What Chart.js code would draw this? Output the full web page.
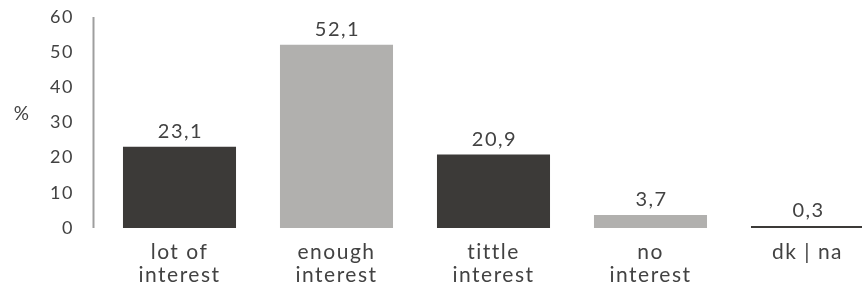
<!DOCTYPE html>
<html>
<head>
<meta charset="utf-8">
<script src="https://cdn.jsdelivr.net/npm/chart.js@4/dist/chart.umd.min.js"></script>
<style>
  html, body { margin: 0; padding: 0; background: #fff; overflow: hidden; }
  #wrap { position: relative; width: 892px; height: 291px; }
</style>
</head>
<body>
<div id="wrap"><canvas id="chart"></canvas></div>
<script>
// chart data
const categories = [['lot of', 'interest'], ['enough', 'interest'], ['tittle', 'interest'], ['no', 'interest'], 'dk | na'];
const values = [23.1, 52.1, 20.9, 3.7, 0.3];
const barColors = ['#3c3a38', '#b1b0ae', '#3c3a38', '#b1b0ae', '#3c3a38'];
const yTicks = [0, 10, 20, 30, 40, 50, 60];

const FONT = 'Lato, "Noto Sans", sans-serif';
const TEXT = '#424242';

// the source font is set quite loose, so widen all canvas text a bit
const spacing = {
    id: 'spacing',
    beforeDraw(chart) {
        chart.ctx.letterSpacing = '1.5px';
    }
};

// value labels above bars, with comma decimals
const valueLabels = {
    id: 'valueLabels',
    afterDatasetsDraw(chart) {
        const ctx = chart.ctx;
        const meta = chart.getDatasetMeta(0);
        ctx.save();
        ctx.font = '20px ' + FONT;
        ctx.letterSpacing = '1.5px';
        ctx.fillStyle = TEXT;
        ctx.textAlign = 'center';
        ctx.textBaseline = 'alphabetic';
        meta.data.forEach((bar, i) => {
            const txt = values[i].toFixed(1).replace('.', ',');
            ctx.fillText(txt, bar.x + 1, bar.y - 9);
        });
        ctx.restore();
    }
};

// y axis line sits a little left of the first category, plus the "%" title
const yAxisDecor = {
    id: 'yAxisDecor',
    afterDraw(chart) {
        const ctx = chart.ctx;
        const area = chart.chartArea;
        const x = area.left - 7.5;
        ctx.save();
        ctx.strokeStyle = '#9e9e9e';
        ctx.lineWidth = 2;
        ctx.beginPath();
        ctx.moveTo(x, area.top);
        ctx.lineTo(x, area.bottom);
        ctx.stroke();
        ctx.font = '19px ' + FONT;
        ctx.fillStyle = TEXT;
        ctx.textAlign = 'center';
        ctx.textBaseline = 'middle';
        ctx.fillText('%', 22, (area.top + area.bottom) / 2 - 9);
        ctx.restore();
    }
};

const ctx = document.getElementById('chart').getContext('2d');

new Chart(ctx, {
    type: 'bar',
    data: {
        labels: categories,
        datasets: [{
            data: values,
            backgroundColor: barColors,
            borderWidth: 0,
            categoryPercentage: 1,
            barPercentage: 0.72,
            minBarLength: 2
        }]
    },
    options: {
        responsive: true,
        maintainAspectRatio: false,
        animation: false,
        layout: {
            padding: { top: 17, right: 6, bottom: 0, left: 0 }
        },
        plugins: {
            legend: { display: false },
            tooltip: { enabled: false }
        },
        scales: {
            x: {
                grid: { display: false, drawTicks: false },
                border: { display: false },
                ticks: {
                    color: TEXT,
                    font: { family: FONT, size: 21, lineHeight: 1.12 },
                    padding: 12,
                    maxRotation: 0,
                    autoSkip: false
                },
                afterFit(scale) { scale.height = 63; }
            },
            y: {
                min: 0,
                max: 60,
                grid: { display: false, drawTicks: false },
                border: { display: false },
                afterBuildTicks(scale) { scale.ticks = yTicks.map(v => ({ value: v })); },
                ticks: {
                    color: TEXT,
                    font: { family: FONT, size: 18 },
                    padding: 27
                },
                afterFit(scale) {
                    scale.width = 101;
                    scale.paddingTop = 0;
                    scale.paddingBottom = 0;
                }
            }
        }
    },
    plugins: [spacing, valueLabels, yAxisDecor]
});
</script>
</body>
</html>
